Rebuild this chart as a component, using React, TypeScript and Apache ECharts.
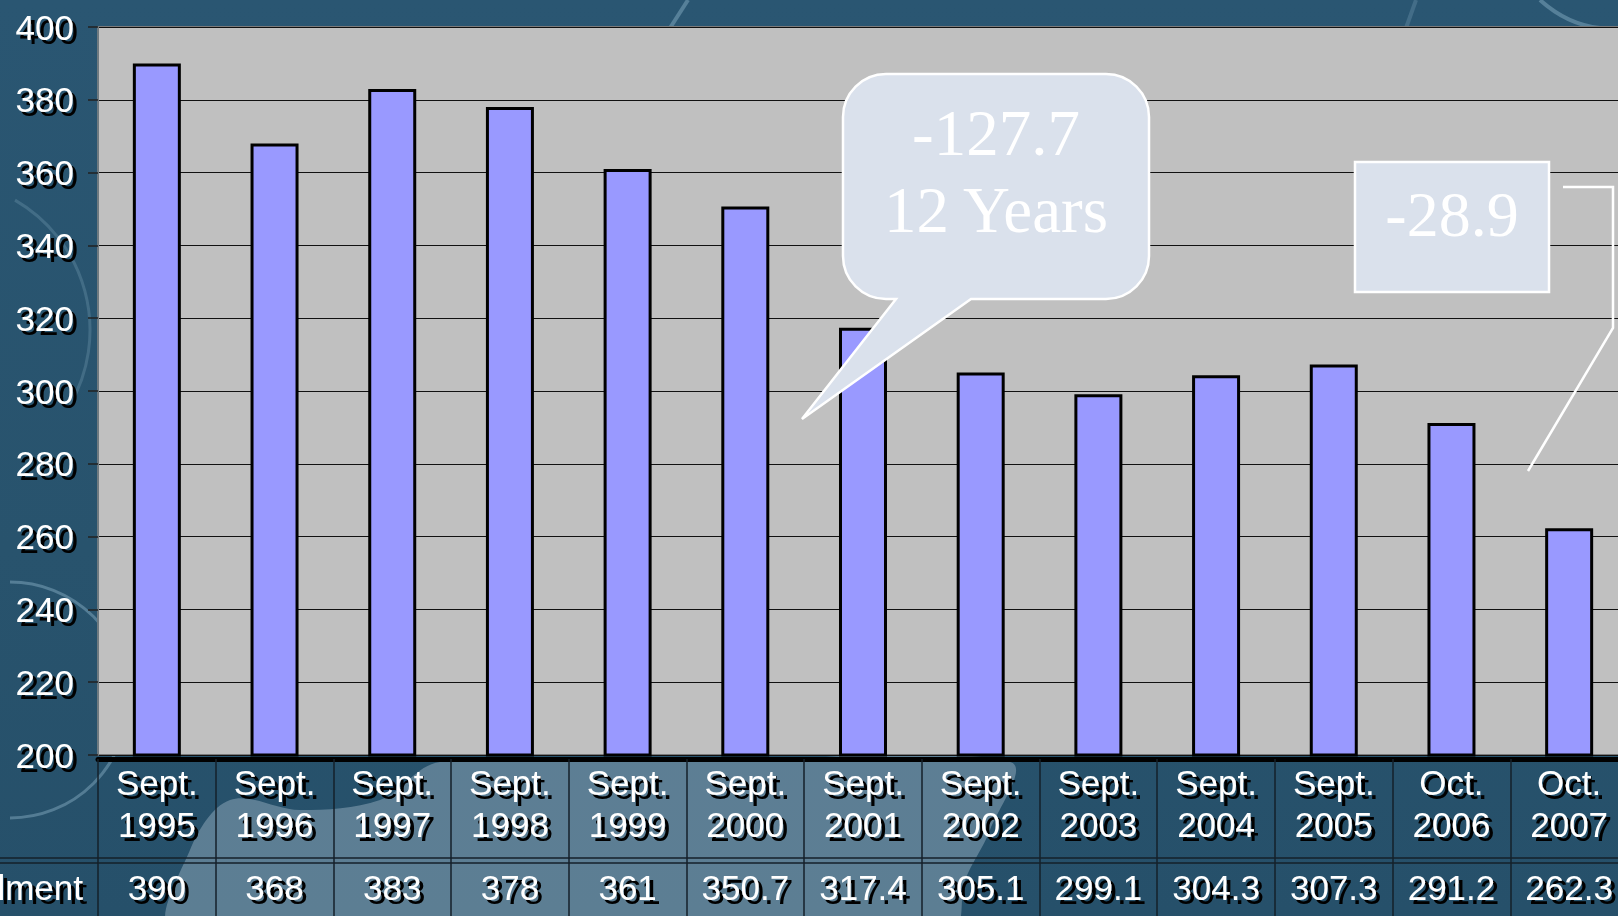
import React, { useEffect, useRef } from 'react';
import * as echarts from 'echarts';

// ---- data ----
const months = ['Sept.', 'Sept.', 'Sept.', 'Sept.', 'Sept.', 'Sept.', 'Sept.', 'Sept.', 'Sept.', 'Sept.', 'Sept.', 'Oct.', 'Oct.'];
const years = ['1995', '1996', '1997', '1998', '1999', '2000', '2001', '2002', '2003', '2004', '2005', '2006', '2007'];
const enrollment = [390, 368, 383, 378, 361, 350.7, 317.4, 305.1, 299.1, 304.3, 307.3, 291.2, 262.3];
const rowHeader = 'Enrollment';
const yMin = 200;
const yMax = 400;
const yStep = 20;
const bubbleLines = ['-127.7', '12 Years'];
const boxText = '-28.9';

const categories = months.map((m, i) => m + '\n' + years[i]);

const bubblePath =
  'M886,74 H1106 A43,43 0 0 1 1149,117 V256 A43,43 0 0 1 1106,299 H971 L802,419 L896,299 H886 A43,43 0 0 1 843,256 V117 A43,43 0 0 1 886,74 Z';
echarts.graphic.registerShape('bubble', echarts.graphic.extendPath(bubblePath, {}));

const sans = '"Liberation Sans", Arial, sans-serif';
const serif = '"Liberation Serif", "Times New Roman", serif';
const shadow = {
  textShadowColor: '#000',
  textShadowOffsetX: 4,
  textShadowOffsetY: 4,
  textShadowBlur: 1,
};

export default function App() {
  const ref = useRef<HTMLDivElement>(null);
  useEffect(() => {
    if (!ref.current) return;
    const chart = echarts.init(ref.current, null, { renderer: 'svg' });
    const deco = 'rgba(170,205,225,0.35)';
    chart.setOption({
      animation: false,
      grid: {
        left: 98,
        top: 27,
        width: 1530,
        height: 728,
        show: true,
        outerBoundsMode: 'none',
        containLabel: false,
        backgroundColor: '#c0c0c0',
        borderColor: '#7a7a7a',
        borderWidth: 2,
      },
      xAxis: [
        {
          type: 'category',
          data: categories,
          position: 'bottom',
          offset: 4,
          axisLine: { show: true, lineStyle: { color: '#000', width: 5 } },
          axisTick: { show: true, interval: 0, length: 160, lineStyle: { color: '#15202a', width: 1.5 } },
          axisLabel: {
            interval: 0,
            margin: 2,
            color: '#fff',
            fontFamily: sans,
            fontSize: 35,
            lineHeight: 42,
            ...shadow,
          },
        },
        {
          type: 'category',
          data: categories,
          position: 'bottom',
          offset: 103,
          axisLine: { show: true, lineStyle: { color: '#15202a', width: 1.5 } },
          axisTick: { show: false },
          axisLabel: {
            interval: 0,
            margin: 11,
            color: '#fff',
            fontFamily: sans,
            fontSize: 35,
            lineHeight: 36,
            formatter: (_v: string, i: number) => String(enrollment[i]),
            ...shadow,
          },
        },
        {
          type: 'category',
          data: categories,
          position: 'bottom',
          offset: 108,
          axisLine: { show: true, lineStyle: { color: '#15202a', width: 1.5 } },
          axisTick: { show: false },
          axisLabel: { show: false },
        },
      ],
      yAxis: {
        type: 'value',
        min: yMin,
        max: yMax,
        interval: yStep,
        axisLine: { show: true, lineStyle: { color: '#6f7a80', width: 2 } },
        axisTick: { show: true, length: 10, lineStyle: { color: '#222', width: 1.5 } },
        splitLine: { show: true, lineStyle: { color: '#111', width: 1.2 } },
        axisLabel: {
          margin: 24,
          color: '#fff',
          fontFamily: sans,
          fontSize: 35,
          ...shadow,
        },
      },
      series: [
        {
          type: 'bar',
          data: enrollment,
          barWidth: 48,
          itemStyle: { color: '#9999ff', borderColor: '#000', borderWidth: 3 },
        },
      ],
      graphic: [
        // background decoration
        {
          type: 'polygon',
          z: -20,
          silent: true,
          shape: {
            smooth: 0.35,
            points: [
              [175, 930], [190, 850], [230, 800], [300, 810], [380, 800], [440, 762],
              [700, 762], [1010, 762], [990, 830], [965, 880], [950, 930],
            ],
          },
          style: { fill: 'rgba(175,195,210,0.4)' },
        },
        {
          type: 'arc',
          z: -20,
          silent: true,
          shape: { cx: 10, cy: 700, r: 118, startAngle: -Math.PI / 2, endAngle: Math.PI / 2 },
          style: { stroke: deco, lineWidth: 3, fill: 'none' },
        },
        {
          type: 'arc',
          z: -20,
          silent: true,
          shape: { cx: -60, cy: 330, r: 150, startAngle: -Math.PI / 3, endAngle: Math.PI / 6 },
          style: { stroke: 'rgba(170,205,225,0.2)', lineWidth: 3, fill: 'none' },
        },
        {
          type: 'line',
          z: -20,
          silent: true,
          shape: { x1: 670, y1: 28, x2: 688, y2: 0 },
          style: { stroke: deco, lineWidth: 4 },
        },
        {
          type: 'line',
          z: -20,
          silent: true,
          shape: { x1: 1406, y1: 28, x2: 1416, y2: 0 },
          style: { stroke: 'rgba(170,205,225,0.2)', lineWidth: 4 },
        },
        {
          type: 'bezierCurve',
          z: -20,
          silent: true,
          shape: { x1: 1540, y1: 0, cpx1: 1560, cpy1: 18, cpx2: 1580, cpy2: 26, x2: 1600, y2: 28 },
          style: { stroke: deco, lineWidth: 4, fill: 'none' },
        },
        // row header (partially off-screen, as in the original slide)
        {
          type: 'text',
          z: 50,
          x: 83,
          y: 887,
          style: {
            text: rowHeader,
            fill: '#fff',
            font: '35px ' + sans,
            align: 'right',
            verticalAlign: 'middle',
            textShadowColor: '#000',
            textShadowOffsetX: 4,
            textShadowOffsetY: 4,
            textShadowBlur: 1,
          },
        },
        {
          type: 'line',
          z: 50,
          shape: { x1: 0, y1: 858, x2: 98, y2: 858 },
          style: { stroke: '#15202a', lineWidth: 1.5 },
        },
        {
          type: 'line',
          z: 50,
          shape: { x1: 0, y1: 863, x2: 98, y2: 863 },
          style: { stroke: '#15202a', lineWidth: 1.5 },
        },
        // speech bubble
        {
          type: 'bubble',
          z: 100,
          x: 0,
          y: 0,
          scaleX: 1,
          scaleY: 1,
          style: { fill: '#dae1ec', stroke: '#ffffff', lineWidth: 2.5 },
        },
        {
          type: 'text',
          z: 101,
          x: 996,
          y: 133,
          style: {
            text: bubbleLines[0],
            fill: '#fff',
            font: '65px ' + serif,
            align: 'center',
            verticalAlign: 'middle',
          },
        },
        {
          type: 'text',
          z: 101,
          x: 996,
          y: 210,
          style: {
            text: bubbleLines[1],
            fill: '#fff',
            font: '65px ' + serif,
            align: 'center',
            verticalAlign: 'middle',
          },
        },
        // -28.9 box
        {
          type: 'rect',
          z: 100,
          shape: { x: 1355, y: 162, width: 194, height: 130 },
          style: { fill: '#dae1ec', stroke: '#ffffff', lineWidth: 2.5 },
        },
        {
          type: 'text',
          z: 101,
          x: 1452,
          y: 214,
          style: {
            text: boxText,
            fill: '#fff',
            font: '64px ' + serif,
            align: 'center',
            verticalAlign: 'middle',
          },
        },
        {
          type: 'polyline',
          z: 100,
          shape: { points: [[1563, 187], [1613, 187], [1613, 328], [1528, 471]] },
          style: { stroke: '#ffffff', lineWidth: 2.5, fill: 'none' },
        },
      ],
    });
    return () => chart.dispose();
  }, []);
  return (
    <div
      ref={ref}
      style={{
        position: 'fixed',
        left: 0,
        top: 0,
        width: 1618,
        height: 916,
        background: 'linear-gradient(180deg, #2a5672 0%, #28536d 60%, #26506a 100%)',
      }}
    />
  );
}
